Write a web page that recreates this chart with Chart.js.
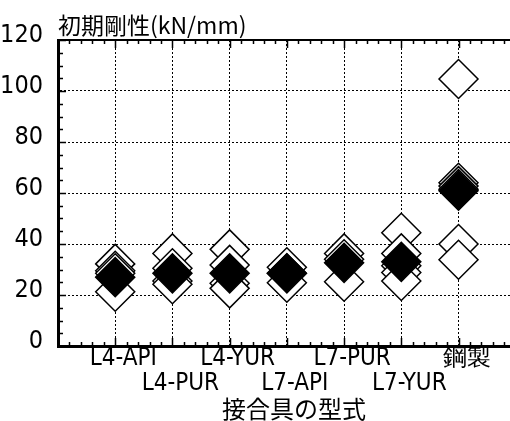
<!DOCTYPE html>
<html>
<head>
<meta charset="utf-8">
<script src="https://cdn.jsdelivr.net/npm/chart.js@4"></script>
<style>
  html, body { margin: 0; padding: 0; background: #fff; }
</style>
</head>
<body>
<canvas id="stiffnessChart" width="510" height="421"></canvas>
<script>
// categories (joint type) and read-off values, kN/mm
const categories = ['L4-API', 'L4-PUR', 'L4-YUR', 'L7-API', 'L7-PUR', 'L7-YUR', '鋼製'];
const l4Api = [32.2, 29.5, 28.5, 21.3];
const l4Pur = [36.3, 30.5, 25.5, 24.2];
const l4Yur = [37.9, 31.8, 24.6, 22.6];
const l7Api = [30.9, 28.5, 24.8];
const l7Pur = [36.3, 34.0, 25.2];
const l7Yur = [44.4, 36.3, 31.5, 28.8, 25.5];
const steel = [104.7, 64.0, 62.7, 61.5, 40.0, 33.8];
const meanValues = [27.0, 28.5, 28.5, 28.5, 32.6, 33.0, 60.9];
const yTicks = [0, 20, 40, 60, 80, 100, 120];

const specimenGroups = [l4Api, l4Pur, l4Yur, l7Api, l7Pur, l7Yur, steel];
const specimenPoints = specimenGroups.flatMap((vals, i) =>
  vals.slice().sort((a, b) => b - a).map(v => ({ x: i + 1, y: v })));
const meanPoints = meanValues.map((v, i) => ({ x: i + 1, y: v }));
const xTicks = [0, ...categories.map((_, i) => i + 1)];

const numFont = "'Liberation Sans Narrow', 'DejaVu Sans Condensed', sans-serif";
const labFont = "'DejaVu Sans Condensed', 'Liberation Sans Narrow', sans-serif";
const cjkFont = "'Noto Sans CJK JP', sans-serif";

// inward ticks on frame + titles
const frameDecor = {
  id: 'frameDecor',
  afterDraw(chart) {
    const { ctx, chartArea: a, scales: { x, y } } = chart;
    ctx.save();
    ctx.strokeStyle = '#000';
    ctx.lineWidth = 2;
    ctx.beginPath();
    ctx.moveTo(a.left, a.top);
    ctx.lineTo(a.right, a.top);
    ctx.stroke();
    ctx.lineWidth = 1.5;
    ctx.beginPath();
    for (let i = 0; i <= Math.floor(x.max * 5); i++) {
      const px = Math.round(x.getPixelForValue(i / 5)) + 0.5;
      const len = i % 5 === 0 ? 8 : 4;
      ctx.moveTo(px, a.bottom); ctx.lineTo(px, a.bottom - len);
      ctx.moveTo(px, a.top); ctx.lineTo(px, a.top + len);
    }
    for (let i = 0; i <= y.max / 5; i++) {
      const py = Math.round(y.getPixelForValue(i * 5)) + 0.5;
      const len = i % 4 === 0 ? 8 : 5;
      ctx.moveTo(a.left, py); ctx.lineTo(a.left + len, py);
    }
    ctx.stroke();
    ctx.fillStyle = '#000';
    ctx.font = '23px ' + cjkFont;
    ctx.textBaseline = 'middle';
    ctx.textAlign = 'left';
    ctx.fillText('初期剛性(kN/mm)', a.left, 25);
    ctx.font = '24px ' + cjkFont;
    ctx.textAlign = 'center';
    ctx.fillText('接合具の型式', (a.left + a.right) / 2 + 10, 409);
    ctx.restore();
  }
};

new Chart(document.getElementById('stiffnessChart'), {
  type: 'scatter',
  data: {
    datasets: [
      {
        label: '平均',
        data: meanPoints,
        pointStyle: 'rectRot',
        pointRadius: 19.5,
        pointHoverRadius: 19.5,
        backgroundColor: '#000',
        borderColor: '#000',
        borderWidth: 1.5
      },
      {
        label: '試験体',
        data: specimenPoints,
        pointStyle: 'rectRot',
        pointRadius: 19.5,
        pointHoverRadius: 19.5,
        backgroundColor: '#fff',
        borderColor: '#000',
        borderWidth: 1.5
      }
    ]
  },
  options: {
    responsive: false,
    animation: false,
    events: [],
    clip: false,
    layout: { autoPadding: false, padding: { top: 40, left: 0, right: 0, bottom: 0 } },
    plugins: { legend: { display: false }, tooltip: { enabled: false }, title: { display: false } },
    scales: {
      x: {
        type: 'linear',
        min: 0,
        max: 7.9,
        afterFit: s => { s.height = 75; },
        afterBuildTicks: s => { s.ticks = xTicks.map(v => ({ value: v })); },
        grid: { color: '#000', lineWidth: 1, drawTicks: false },
        border: { color: '#000', width: 3, dash: [2, 2] },
        ticks: {
          padding: 0,
          maxRotation: 0,
          autoSkip: false,
          labelOffset: 8,
          color: '#000',
          font: { family: labFont, size: 24, lineHeight: 1.05 },
          callback: v => {
            const name = categories[v - 1];
            if (!name) return '';
            return v % 2 === 1 ? [name, ''] : ['', name];
          }
        }
      },
      y: {
        min: 0,
        max: 120,
        afterFit: s => { s.width = 58; },
        afterBuildTicks: s => { s.ticks = yTicks.map(v => ({ value: v })); },
        grid: { color: '#000', lineWidth: 1, drawTicks: false },
        border: { color: '#000', width: 3, dash: [2, 2] },
        ticks: {
          padding: 15,
          labelOffset: -5,
          color: '#000',
          font: { family: numFont, size: 25 }
        }
      }
    }
  },
  plugins: [frameDecor]
});
</script>
</body>
</html>
